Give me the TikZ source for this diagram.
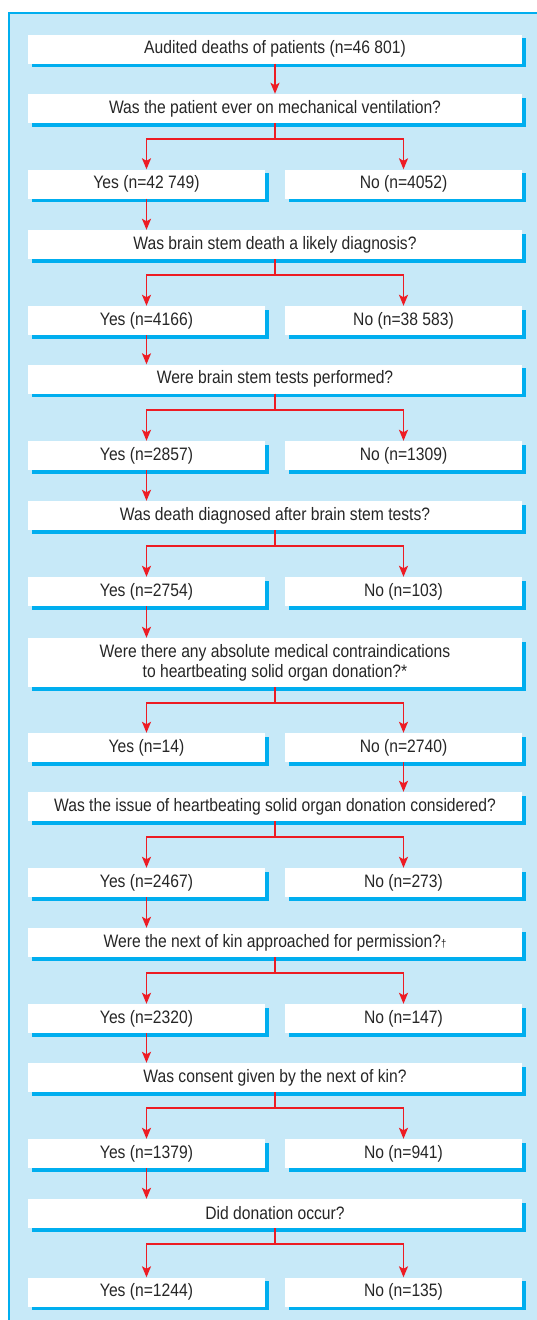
\documentclass[tikz,border=0pt]{standalone}
\usepackage{fontspec}
\setmainfont{Liberation Sans}[FakeStretch=0.87]
\usetikzlibrary{arrows.meta,shadows}
\definecolor{panelblue}{RGB}{199,233,248}
\definecolor{shadowblue}{RGB}{0,174,239}
\definecolor{flowred}{RGB}{237,28,36}
\tikzset{
	box/.style={fill=white, inner sep=0pt, align=center, text=black!85,
		font=\fontsize{18}{20}\selectfont,
		drop shadow={shadow xshift=3.5pt, shadow yshift=-3.5pt, fill=shadowblue, opacity=1}},
	wide/.style={box, minimum width=494pt},
	half/.style={box, minimum width=237pt, minimum height=29pt},
	flow/.style={draw=flowred, line width=1.7pt, -{Stealth[length=11pt, width=9pt, inset=2.5pt]}}
}
\begin{document}
\begin{tikzpicture}[x=1pt, y=-1pt]
	%panel
	\useasboundingbox (0,0) rectangle (537,1320);
	\fill[panelblue] (9,13) rectangle (545,1330);
	\draw[shadowblue, line width=1.3pt] (9,1330) -- (9,13) -- (545,13);
	%first box
	\node[wide, minimum height=29pt] (start) at (275,49) {Audited deaths of patients (n=46 801)};
	%questions and answers
	\foreach \n/\from/\yq/\h/\yr/\qtext/\ytext/\ntext in {
		1/start/108.5/29/184/{Was the patient ever on mechanical ventilation?}/{42 749}/{4052},
		2/yes1/244.5/29/320.5/{Was brain stem death a likely diagnosis?}/{4166}/{38 583},
		3/yes2/379/29/455.5/{Were brain stem tests performed?}/{2857}/{1309},
		4/yes3/515.5/29/591.5/{Was death diagnosed after brain stem tests?}/{2754}/{103},
		5/yes4/662.5/49/747.5/{Were there any absolute medical contraindications\\to heartbeating solid organ donation?*}/{14}/{2740},
		6/no5/806.5/29/882.5/{Was the issue of heartbeating solid organ donation considered?}/{2467}/{273},
		7/yes6/942.5/29/1018.5/{Were the next of kin approached for permission?{\fontsize{11}{11}\selectfont †}}/{2320}/{147},
		8/yes7/1077.5/29/1153.5/{Was consent given by the next of kin?}/{1379}/{941},
		9/yes8/1213.5/29/1292/{Did donation occur?}/{1244}/{135}%
	}{
		\node[wide, minimum height=\h pt] (q\n) at (275,\yq) {\qtext};
		\node[half] (yes\n) at (146.5,\yr) {Yes (n=\ytext)};
		\node[half] (no\n) at (403.5,\yr) {No (n=\ntext)};
		\draw[flow] (\from.south) -- (\from.south |- q\n.north);
		\draw[flow] (q\n.south) -- ++(0,16) -| (yes\n.north);
		\draw[flow] (q\n.south) -- ++(0,16) -| (no\n.north);
	}
\end{tikzpicture}
\end{document}
